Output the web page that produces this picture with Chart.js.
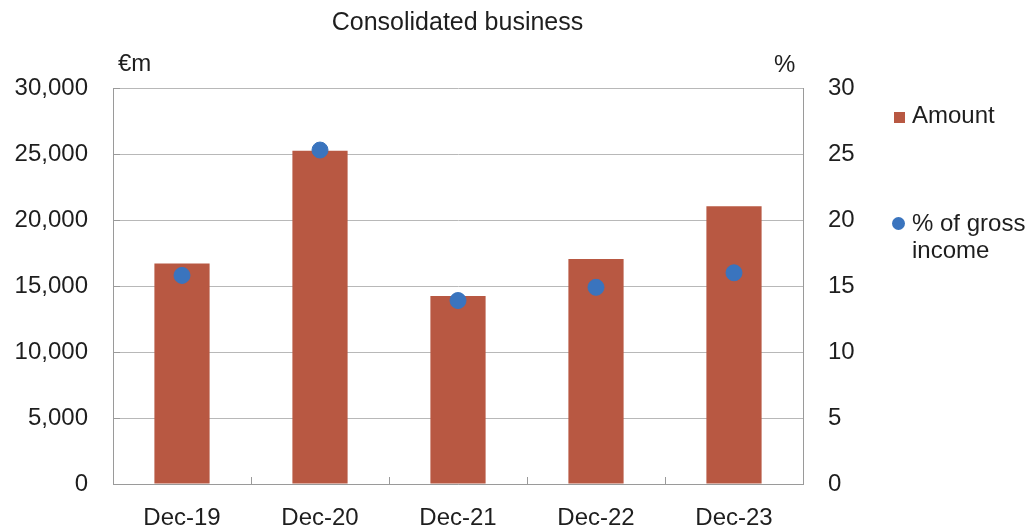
<!DOCTYPE html>
<html>
<head>
<meta charset="utf-8">
<script src="https://cdn.jsdelivr.net/npm/chart.js@4"></script>
<style>
  body { margin: 0; background: #fff; }
  #wrap { position: relative; width: 1036px; height: 528px; font-family: "Liberation Sans", Arial, sans-serif; color: #1e1e1e; }
  #grafico { position: absolute; left: 0; top: 0; }
  .txt { position: absolute; white-space: nowrap; font-size: 24px; line-height: 1; }
  .sq { position: absolute; width: 11px; height: 11px; background: #B85842; }
  .dot { position: absolute; width: 13px; height: 13px; border-radius: 50%; background: #3A74BE; }
</style>
</head>
<body>
<div id="wrap">
  <canvas id="grafico" width="1036" height="528"></canvas>
  <div class="txt" style="left:0;width:915px;text-align:center;top:9px;font-size:25px;">Consolidated business</div>
  <div class="txt" style="left:118px;top:51px;">€m</div>
  <div class="txt" style="left:774px;top:52px;">%</div>
  <div class="sq" style="left:894px;top:112px;"></div>
  <div class="txt" style="left:912px;top:103px;">Amount</div>
  <div class="dot" style="left:892px;top:217px;"></div>
  <div class="txt" style="left:912px;top:211px;">% of gross</div>
  <div class="txt" style="left:912px;top:238px;">income</div>
</div>
<script>
const labels = ["Dec-19", "Dec-20", "Dec-21", "Dec-22", "Dec-23"];
const amount = [16700, 25250, 14250, 17050, 21050];
const pctGross = [15.8, 25.3, 13.9, 14.9, 16.0];

const leftTicks = [0, 5000, 10000, 15000, 20000, 25000, 30000];
const rightTicks = [0, 5, 10, 15, 20, 25, 30];

const corTexto = "#1e1e1e";
const corEixo = "#9a9a9a";
const fonte = { family: "Liberation Sans, Arial, sans-serif", size: 24 };

// little inward ticks on the axes
const marcasX = {
    id: "marcasX",
    afterDatasetsDraw(chart) {
        const x = chart.scales.x;
        const ctx = chart.ctx;
        const n = labels.length;
        const passo = (x.right - x.left) / n;
        ctx.save();
        ctx.strokeStyle = corEixo;
        ctx.lineWidth = 1;
        for (let i = 1; i < n; i++) {
            const px = Math.round(x.left + passo * i) + 0.5;
            ctx.beginPath();
            ctx.moveTo(px, x.top);
            ctx.lineTo(px, x.top - 7);
            ctx.stroke();
        }
        const y = chart.scales.y;
        for (const v of leftTicks) {
            const py = Math.round(y.getPixelForValue(v)) + 0.5;
            ctx.beginPath();
            ctx.moveTo(y.right, py);
            ctx.lineTo(y.right + 7, py);
            ctx.stroke();
        }
        ctx.restore();
    }
};

new Chart(document.getElementById("grafico"), {
    data: {
        labels: labels,
        datasets: [{
            type: "scatter",
            label: "% of gross income",
            data: pctGross.map((v, i) => ({ x: labels[i], y: v })),
            yAxisID: "y1",
            xAxisID: "x",
            showLine: false,
            pointRadius: 8,
            pointHoverRadius: 8,
            pointBackgroundColor: "#3A74BE",
            pointBorderColor: "#3A74BE",
            order: 0
        }, {
            type: "bar",
            label: "Amount",
            data: amount,
            yAxisID: "y",
            backgroundColor: "#B85842",
            barPercentage: 0.8,
            categoryPercentage: 0.5,
            order: 1
        }]
    },
    options: {
        responsive: false,
        animation: false,
        events: [],
        layout: { padding: { top: 88, right: 153, bottom: 0, left: 0 } },
        plugins: {
            legend: { display: false },
            tooltip: { enabled: false },
            title: { display: false }
        },
        scales: {
            x: {
                type: "category",
                labels: labels,
                offset: true,
                grid: { display: false, drawTicks: false },
                border: { display: true, color: corEixo, width: 1 },
                ticks: { color: corTexto, font: fonte, padding: 20 },
                afterFit(s) { s.height = 44; }
            },
            y: {
                position: "left",
                min: 0,
                max: 30000,
                afterBuildTicks(s) { s.ticks = leftTicks.map(v => ({ value: v })); },
                grid: { color: "#b8b8b8", lineWidth: 1, drawTicks: false },
                border: { display: true, color: corEixo, width: 1 },
                ticks: {
                    color: corTexto,
                    font: fonte,
                    padding: 25,
                    callback: v => v.toLocaleString("en-US")
                },
                afterFit(s) { s.width = 113; }
            },
            y1: {
                position: "right",
                min: 0,
                max: 30,
                afterBuildTicks(s) { s.ticks = rightTicks.map(v => ({ value: v })); },
                grid: { display: false, drawTicks: false },
                border: { display: true, color: corEixo, width: 1 },
                ticks: { color: corTexto, font: fonte, padding: 25 },
                afterFit(s) { s.width = 80; }
            }
        }
    },
    plugins: [marcasX]
});
</script>
</body>
</html>
